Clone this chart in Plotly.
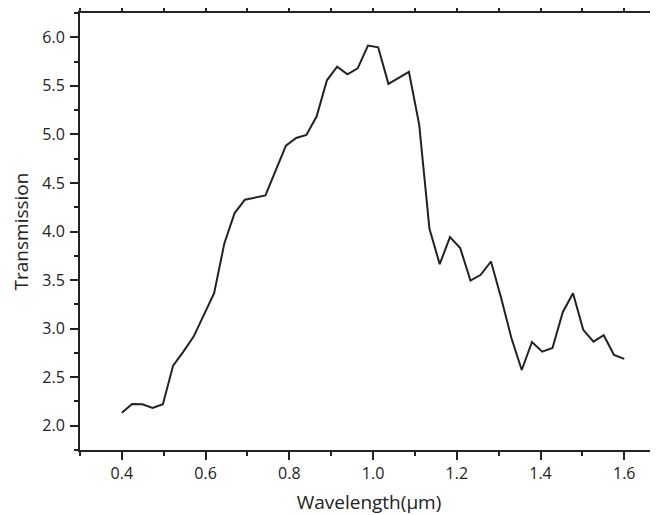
import plotly.graph_objects as go

wavelength = [0.400, 0.4245, 0.449, 0.4735, 0.498, 0.5224, 0.5469, 0.5714, 0.5959, 0.6204,
              0.6449, 0.6694, 0.6939, 0.7184, 0.7429, 0.7673, 0.7918, 0.8163, 0.8408, 0.8653,
              0.8898, 0.9143, 0.9388, 0.9633, 0.9878, 1.0122, 1.0367, 1.0612, 1.0857, 1.1102,
              1.1347, 1.1592, 1.1837, 1.2082, 1.2327, 1.2571, 1.2816, 1.3061, 1.3306, 1.3551,
              1.3796, 1.4041, 1.4286, 1.4531, 1.4776, 1.502, 1.5265, 1.551, 1.5755, 1.600]
transmission = [2.134, 2.224, 2.221, 2.182, 2.221, 2.619, 2.763, 2.918, 3.141, 3.365,
                3.880, 4.190, 4.327, 4.353, 4.371, 4.626, 4.884, 4.963, 4.994, 5.186,
                5.557, 5.698, 5.619, 5.680, 5.914, 5.897, 5.520, 5.581, 5.643, 5.100,
                4.028, 3.664, 3.942, 3.829, 3.495, 3.554, 3.691, 3.313, 2.901, 2.574,
                2.863, 2.763, 2.801, 3.169, 3.365, 2.987, 2.866, 2.932, 2.729, 2.688]

x_range = [0.3, 1.6806]
y_range = [1.75, 6.25]
ink = "#222222"
font_family = "Open Sans, Lato, sans-serif"

fig = go.Figure()
fig.add_trace(go.Scatter(x=wavelength, y=transmission, mode="lines",
                         line=dict(color=ink, width=2), showlegend=False, hoverinfo="x+y"))
# invisible companion trace so the mirrored top axis is drawn
fig.add_trace(go.Scatter(x=wavelength, y=transmission, mode="lines", xaxis="x2",
                         line=dict(color="rgba(0,0,0,0)", width=0), showlegend=False,
                         hoverinfo="skip"))

axis_common = dict(showgrid=False, zeroline=False, showline=True, linecolor=ink,
                   linewidth=2, ticks="outside", ticklen=8, tickwidth=2, tickcolor=ink,
                   automargin=False)
minor_x = dict(ticks="outside", ticklen=4, tickwidth=2, tickcolor=ink, dtick=0.1, tick0=0.3)

# page body has an 8px margin, so the figure is sized to fit the 658x515 window
fig.update_layout(
    width=650, height=507,
    margin=dict(l=72, r=0, t=5, b=65),
    plot_bgcolor="white", paper_bgcolor="white",
    font=dict(family=font_family, size=16, color=ink),
    xaxis=dict(range=x_range, tick0=0.4, dtick=0.2, tickformat=".1f",
               tickfont=dict(size=16), minor=minor_x,
               title=dict(text="Wavelength(μm)", font=dict(size=19), standoff=12),
               **axis_common),
    xaxis2=dict(range=x_range, overlaying="x", side="top", tick0=0.4, dtick=0.2,
                showticklabels=False, minor=minor_x, **axis_common),
    yaxis=dict(range=y_range, tick0=2.0, dtick=0.5, tickformat=".1f",
               tickfont=dict(size=16), ticklabelstandoff=2,
               minor=dict(ticks="outside", ticklen=4, tickwidth=2, tickcolor=ink, dtick=0.25, tick0=1.75),
               title=dict(text="Transmission", font=dict(size=19), standoff=10),
               **axis_common),
)

fig.write_html("out.html")
